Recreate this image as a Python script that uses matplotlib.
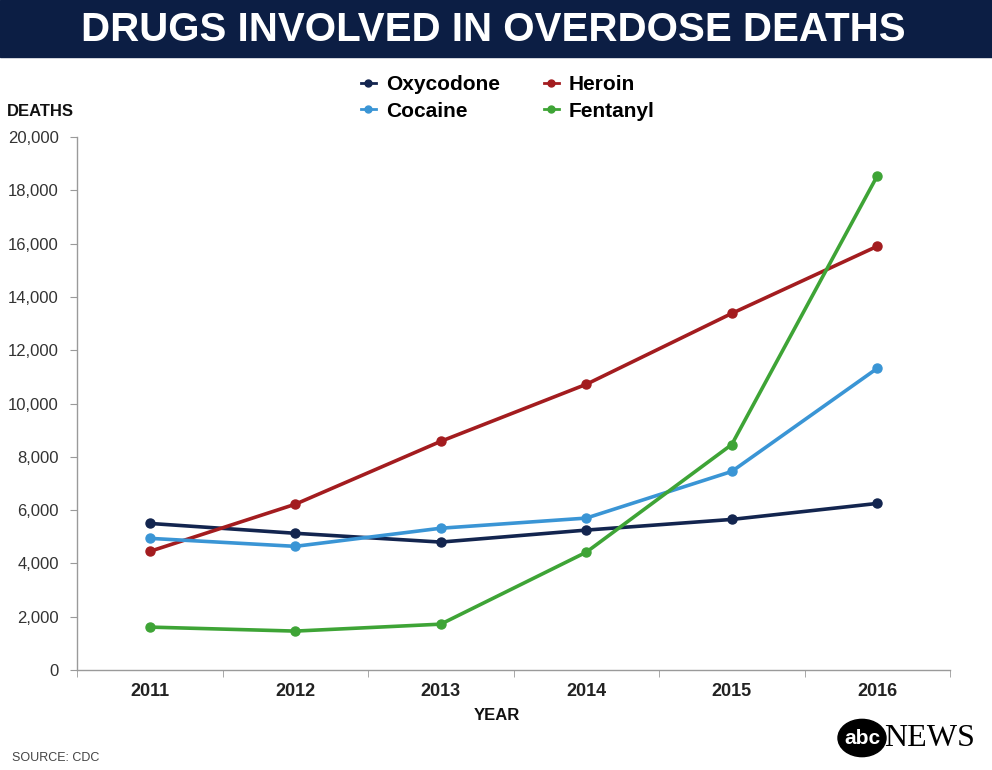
import matplotlib.pyplot as plt
from matplotlib.patches import Circle, Rectangle
from matplotlib.lines import Line2D
from matplotlib.ticker import FuncFormatter, FixedLocator

years = ["2011", "2012", "2013", "2014", "2015", "2016"]
oxycodone = [5500, 5130, 4800, 5250, 5650, 6250]
heroin = [4450, 6220, 8580, 10720, 13380, 15900]
cocaine = [4940, 4640, 5320, 5700, 7450, 11320]
fentanyl = [1610, 1460, 1720, 4420, 8460, 18540]

NAVY = "#13254f"
RED = "#a31c1f"
BLUE = "#3a95d5"
GREEN = "#3ea436"
BANNER = "#0c1e44"
AXIS = "#9a9a9a"

plt.rcParams["font.family"] = ["Liberation Sans", "DejaVu Sans"]

fig = plt.figure(figsize=(9.92, 7.7), dpi=100)
ax = fig.add_axes([77 / 992, 100 / 770, 873 / 992, 533 / 770])

series = [("Oxycodone", oxycodone, NAVY), ("Heroin", heroin, RED),
          ("Cocaine", cocaine, BLUE), ("Fentanyl", fentanyl, GREEN)]
x = list(range(len(years)))
for name, vals, col in series:
    ax.plot(x, vals, color=col, lw=2.6, marker="o", ms=6.5, zorder=3)

ax.set_xlim(-0.5, len(years) - 0.5)
ax.set_ylim(0, 20000)
ax.set_yticks(range(0, 20001, 2000))
ax.yaxis.set_major_formatter(FuncFormatter(lambda v, p: f"{int(v):,}"))
ax.set_xticks(x)
ax.set_xticklabels(years, fontsize=13, fontweight="bold", color="#222222")
ax.xaxis.set_minor_locator(FixedLocator([i + 0.5 for i in range(-1, len(years))]))
ax.tick_params(axis="x", which="major", length=0, pad=9)
ax.tick_params(axis="x", which="minor", length=5, color=AXIS)
ax.tick_params(axis="y", length=5, color=AXIS, labelsize=12, labelcolor="#333333", pad=8)
for s in ("top", "right"):
    ax.spines[s].set_visible(False)
for s in ("left", "bottom"):
    ax.spines[s].set_color(AXIS)
    ax.spines[s].set_linewidth(1)

# title banner
fig.patches.append(Rectangle((0, 1 - 57 / 770), 1, 57 / 770, transform=fig.transFigure,
                             color=BANNER, zorder=0))
fig.text(0.497, 1 - 30 / 770, "DRUGS INVOLVED IN OVERDOSE DEATHS", ha="center", va="center",
         color="white", fontsize=29, fontweight="bold")

# legend
handles = [Line2D([0], [0], color=c, lw=2, marker="o", ms=5) for _, _, c in series]
labels = [n for n, _, _ in series]
order = [0, 2, 1, 3]
fig.legend([handles[i] for i in order], [labels[i] for i in order], ncol=2,
           loc="center", bbox_to_anchor=(508 / 992, 1 - 98 / 770), frameon=False,
           handlelength=0.7, handletextpad=0.5, columnspacing=2.1,
           labelspacing=0.35, borderaxespad=0, prop={"size": 15, "weight": "bold"})

fig.text(7 / 992, 1 - 112 / 770, "DEATHS", fontsize=12, fontweight="bold", va="center",
         color="#111111")
fig.text(497 / 992, 1 - 715 / 770, "YEAR", fontsize=12, fontweight="bold", ha="center",
         va="center", color="#111111")
fig.text(12 / 992, 1 - 758 / 770, "SOURCE: CDC", fontsize=9, va="center", color="#444444")

# abc news logo
fig.patches.append(Circle((862 / 992, 1 - 738 / 770), 24 / 992, transform=fig.transFigure,
                          color="black", zorder=2))
fig.text(862 / 992, 1 - 738 / 770, "abc", fontsize=15, fontweight="bold", color="white",
         ha="center", va="center", zorder=3)
fig.text(884 / 992, 1 - 739 / 770, "NEWS", fontsize=23, color="black", va="center",
         family=["Liberation Serif", "DejaVu Serif"])

fig.savefig("out.png", dpi=100)
